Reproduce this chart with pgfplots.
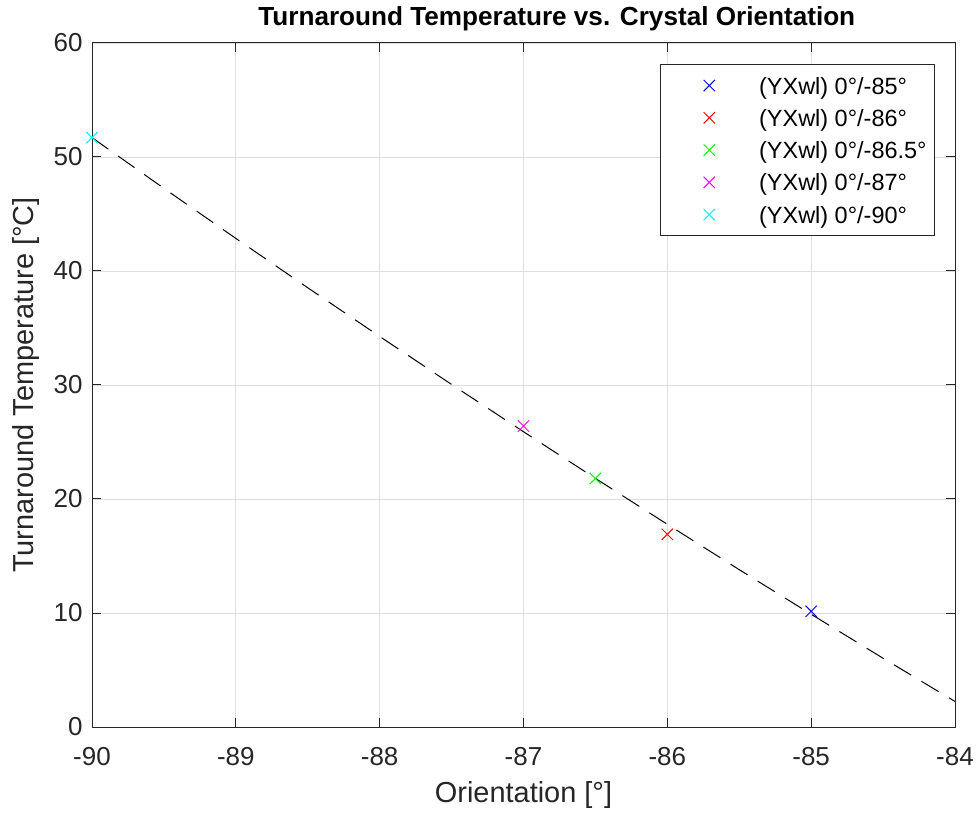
\documentclass[border=0pt]{standalone}
\usepackage{pgfplots}
\pgfplotsset{compat=1.18}
\usepackage{fontspec}
\setmainfont{Liberation Sans}
\definecolor{axgray}{gray}{0.15}
\begin{document}
\begin{tikzpicture}
\begin{axis}[
  name=ax,
  scale only axis,
  width=647.25pt, height=513pt,
  xmin=-90, xmax=-84, ymin=0, ymax=60,
  xtick={-90,-89,-88,-87,-86,-85,-84},
  ytick={0,10,20,30,40,50,60},
  grid=major,
  major grid style={color=black!13, line width=0.6pt},
  axis line style={axgray, line width=0.75pt},
  tick style={axgray, line width=0.75pt},
  tick align=inside,
  major tick length=6.5pt,
  /pgf/number format/assume math mode=true,
  tick label style={font=\fontsize{19.5}{21}\selectfont, text=axgray},
  xticklabel style={anchor=base, yshift=-29pt},
  yticklabel style={xshift=-3.5pt},
  every axis title shift=0pt,
  title={Turnaround Temperature vs. Crystal Orientation},
  title style={at={(axis description cs:0.5386,1.0249)}, anchor=base, font=\bfseries\fontsize{19.6}{22}\selectfont},
  xlabel={Orientation [°]},
  xlabel style={at={(axis description cs:0.5,-0.1111)}, anchor=base, font=\fontsize{21.7}{24}\selectfont, text=axgray},
  ylabel={Turnaround Temperature [°C]},
  ylabel style={at={(axis description cs:-0.068,0.5)}, anchor=base, font=\fontsize{21.7}{24}\selectfont, text=axgray},
  legend style={at={(axis description cs:0.9768,0.9693)}, anchor=north east,
    draw=axgray, line width=0.6pt, fill=white,
    font=\fontsize{17.6}{19}\selectfont, text=black,
    row sep=4.45pt, inner xsep=6pt, inner ysep=6pt,
    nodes={inner sep=0pt, text height=16.25pt, text depth=3.5pt}},
  legend cell align=left,
  legend image code/.code={\path (0pt,0pt) (67pt,0pt);\draw[#1] plot[only marks] coordinates {(30pt,0pt)};},
]
\addplot[black, line width=0.75pt, dash pattern=on 15pt off 9pt, forget plot] coordinates {
(-90,51.70) (-89.5,47.25) (-89,42.86) (-88.5,38.53) (-88,34.26) (-87.5,30.05)
(-87,25.90) (-86.5,21.81) (-86,17.78) (-85.5,13.80) (-85,9.89) (-84.5,6.03) (-84,2.24)};
\addplot[only marks, mark=x, mark size=6pt, line width=0.75pt, color={rgb,1:red,0;green,0;blue,1}] coordinates {(-85,10.15)};
\addlegendentry{(YXwl) 0°/-85°}
\addplot[only marks, mark=x, mark size=6pt, line width=0.75pt, color={rgb,1:red,1;green,0;blue,0}] coordinates {(-86,16.9)};
\addlegendentry{(YXwl) 0°/-86°}
\addplot[only marks, mark=x, mark size=6pt, line width=0.75pt, color={rgb,1:red,0;green,1;blue,0}] coordinates {(-86.5,21.8)};
\addlegendentry{(YXwl) 0°/-86.5°}
\addplot[only marks, mark=x, mark size=6pt, line width=0.75pt, color={rgb,1:red,1;green,0;blue,1}] coordinates {(-87,26.4)};
\addlegendentry{(YXwl) 0°/-87°}
\addplot[only marks, mark=x, mark size=6pt, line width=0.75pt, color={rgb,1:red,0;green,1;blue,1}] coordinates {(-90,51.7)};
\addlegendentry{(YXwl) 0°/-90°}
\end{axis}
\pgfresetboundingbox
\path[use as bounding box] ([shift={(-69pt,-64.5pt)}]ax.south west) rectangle ([shift={(18.75pt,32.25pt)}]ax.north east);
\end{tikzpicture}
\end{document}
